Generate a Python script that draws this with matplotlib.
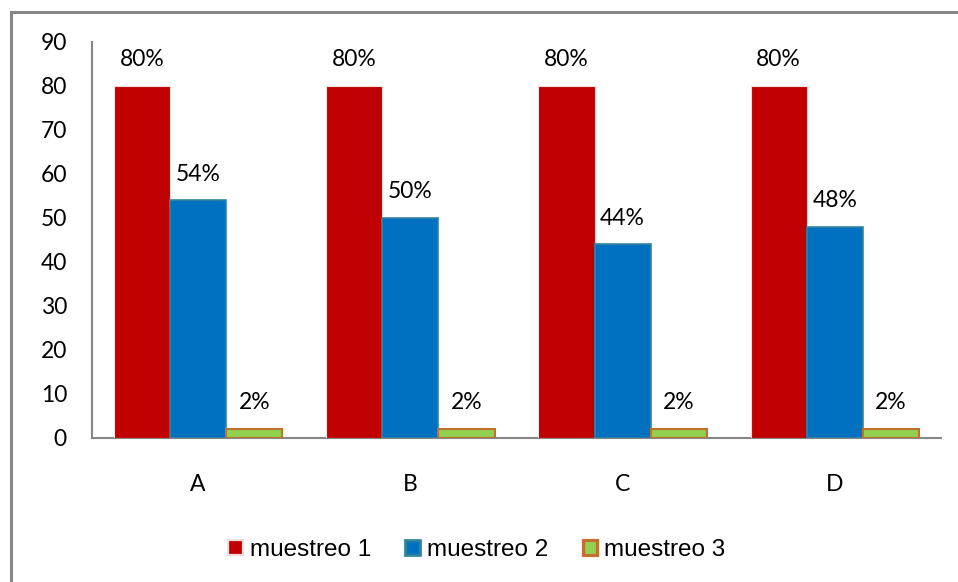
import matplotlib
matplotlib.use("Agg")
import matplotlib.pyplot as plt
from matplotlib.lines import Line2D
from matplotlib.patches import Patch
import numpy as np

categories = ["A", "B", "C", "D"]
muestreo_1 = [80, 80, 80, 80]
muestreo_2 = [54, 50, 44, 48]
muestreo_3 = [2, 2, 2, 2]
series_names = ["muestreo 1", "muestreo 2", "muestreo 3"]
yticks = [0, 10, 20, 30, 40, 50, 60, 70, 80, 90]

W, H = 958, 582
fig = plt.figure(figsize=(W / 100, H / 100), dpi=100)
ax = fig.add_axes([92 / W, 144 / H, (941 - 92) / W, (540 - 144) / H])

FS = 16.5
x = np.arange(len(categories))
bw = 0.265
styles = [
    dict(color="#C00000", edgecolor="#F2DCDB", linewidth=0.8),
    dict(color="#0070C0", edgecolor="#31859C", linewidth=1.2),
    dict(color="#92D050", edgecolor="#C0702F", linewidth=1.5),
]
data = [muestreo_1, muestreo_2, muestreo_3]
handles = []
for i, (vals, st) in enumerate(zip(data, styles)):
    bars = ax.bar(x + (i - 1) * bw, vals, width=bw, facecolor=st["color"],
                  edgecolor=st["edgecolor"], linewidth=st["linewidth"], zorder=3)
    for b, v in zip(bars, vals):
        ax.annotate(f"{v}%", (b.get_x() + b.get_width() / 2, v),
                    xytext=(0, 19), textcoords="offset points",
                    ha="center", va="center", fontsize=FS, family="Lato",
                    color="black")
    handles.append(Patch(facecolor=st["color"], edgecolor=st["edgecolor"],
                         linewidth=st["linewidth"] + 0.8))

ax.set_xlim(-0.5, 3.5)
ax.set_ylim(0, 90)
ax.set_yticks(yticks)
ax.set_yticklabels([str(t) for t in yticks], family="Lato", fontsize=FS)
ax.set_xticks(x)
ax.set_xticklabels(categories, family="Lato", fontsize=FS)
ax.tick_params(axis="y", length=0, pad=18)
ax.tick_params(axis="x", length=0, pad=26)
for s in ["top", "right"]:
    ax.spines[s].set_visible(False)
for s in ["left", "bottom"]:
    ax.spines[s].set_color("#868686")
    ax.spines[s].set_linewidth(1.5)

leg = fig.legend(handles, series_names, loc="center", bbox_to_anchor=(477 / W, 1 - 550 / H),
                 ncol=3, frameon=False, prop={"family": "Liberation Sans", "size": 17.5},
                 handlelength=0.6, handleheight=0.6, handletextpad=0.3, columnspacing=1.4,
                 borderpad=0, borderaxespad=0)

# outer chart border (top and left visible)
fig.add_artist(Line2D([10.5 / W, 1.0], [1 - 11.5 / H, 1 - 11.5 / H], color="#868686", lw=2.2,
                      transform=fig.transFigure))
fig.add_artist(Line2D([10.5 / W, 10.5 / W], [0.0, 1 - 11.5 / H], color="#868686", lw=2.2,
                      transform=fig.transFigure))

fig.savefig("out.png", dpi=100, facecolor="white")
